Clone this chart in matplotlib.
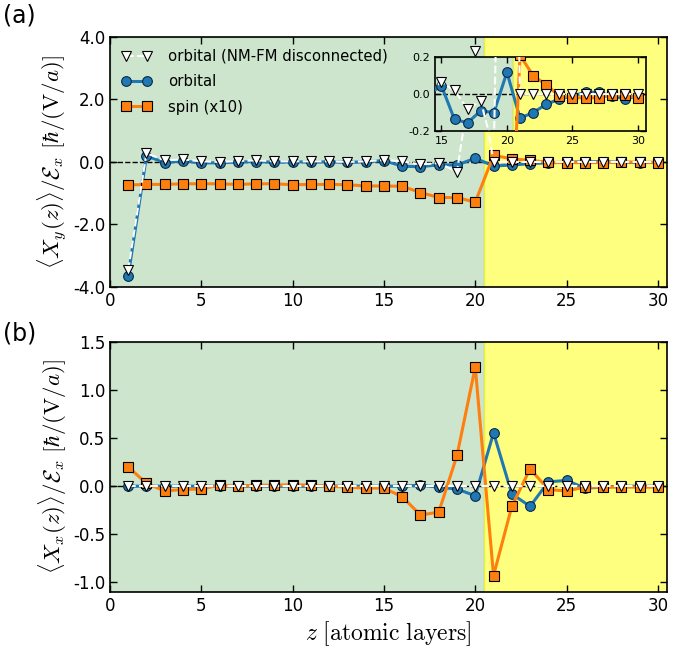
import numpy as np
import matplotlib
matplotlib.use("Agg")
import matplotlib.pyplot as plt

plt.rcParams['mathtext.fontset'] = 'cm'
plt.rcParams['font.family'] = ['DejaVu Sans']

# atomic layers
z = np.arange(1, 31)

# panel (a): <X_y(z)>/E_x
orb_y = [-3.65, 0.19, -0.02, 0.03, -0.03, -0.03, 0.0, 0.01, -0.01, 0.0,
         0.0, 0.0, -0.01, 0.0, 0.045, -0.137, -0.155, -0.09, -0.10, 0.118,
         -0.13, -0.10, -0.055, -0.027, -0.01, 0.01, 0.01, -0.01, -0.025, -0.01]
disc_y = [-3.46, 0.28, 0.05, 0.08, 0.02, 0.0, 0.03, 0.05, 0.02, 0.02,
          0.02, 0.02, 0.0, 0.02, 0.063, 0.02, -0.08, -0.037, -0.31, 3.55,
          0.0, 0.0, 0.0, 0.0, 0.0, 0.0, 0.0, 0.0, 0.0, 0.0]
spin_y = [-0.74, -0.72, -0.72, -0.70, -0.70, -0.70, -0.72, -0.70, -0.70, -0.73,
          -0.72, -0.72, -0.73, -0.77, -0.77, -0.78, -0.98, -1.14, -1.14, -1.29,
          0.21, 0.10, 0.05, -0.01, -0.02, -0.02, -0.02, -0.005, -0.005, -0.02]

# panel (b): <X_x(z)>/E_x
orb_x = [0.0, 0.0, 0.0, 0.0, 0.0, 0.0, 0.0, 0.0, 0.0, 0.0,
         0.0, 0.0, 0.0, 0.0, 0.0, 0.0, 0.01, -0.01, -0.03, -0.10,
         0.555, -0.08, -0.21, 0.045, 0.06, -0.02, -0.01, 0.0, 0.0, 0.0]
disc_x = [0.0] * 30
spin_x = [0.20, 0.03, -0.05, -0.035, -0.03, 0.01, 0.0, 0.01, 0.01, 0.015,
          0.01, 0.0, -0.01, -0.02, -0.02, -0.11, -0.30, -0.27, 0.32, 1.24,
          -0.93, -0.21, 0.18, -0.035, -0.05, -0.01, -0.01, -0.01, -0.01, -0.01]

NM_END = 20.5
Z_MAX = 30.5
BLUE = '#1f77b4'
ORANGE = '#ff7f0e'


def shade(ax):
    ax.axvspan(0, NM_END, color='green', alpha=0.2, zorder=0)
    ax.axvspan(NM_END, Z_MAX + 5, color='yellow', alpha=0.5, zorder=0)
    ax.axhline(0, color='k', ls='--', lw=1, zorder=1)


def draw(ax, orb, spin, disc, ms=7, lw=2.2):
    h1, = ax.plot(z, orb, '-o', color=BLUE, lw=lw, ms=ms, mec='#0b2a45',
                  mew=0.8, label='orbital', zorder=3)
    h2, = ax.plot(z, spin, '-s', color=ORANGE, lw=lw, ms=ms, mec='k',
                  mew=0.8, label='spin (x10)', zorder=4)
    h3, = ax.plot(z, disc, 'v', ls='--', color='white', mfc='white', mec='k',
                  lw=1.5, ms=ms + 0.5, mew=0.8,
                  label='orbital (NM-FM disconnected)', zorder=5)
    return h1, h2, h3


def style(ax, size=12):
    ax.tick_params(direction='in', top=True, right=True, labelsize=size,
                   length=5, width=1)
    for s in ax.spines.values():
        s.set_linewidth(1.2)


fig = plt.figure(figsize=(6.87, 6.49), dpi=100)
ax1 = fig.add_axes([0.160, 0.558, 0.811, 0.385])
ax2 = fig.add_axes([0.160, 0.088, 0.811, 0.385])

# (a)
shade(ax1)
h1, h2, h3 = draw(ax1, orb_y, spin_y, disc_y)
ax1.set_xlim(0, Z_MAX)
ax1.set_ylim(-4, 4)
ax1.set_xticks(range(0, 31, 5))
ax1.set_yticks([-4, -2, 0, 2, 4])
ax1.set_yticklabels(['%.1f' % v for v in [-4, -2, 0, 2, 4]])
style(ax1)
ax1.set_ylabel(r'$\langle X_y(z)\rangle/\mathcal{E}_x\ [\hbar/(\mathrm{V}/a)]$',
               fontsize=16.5, labelpad=3)
ax1.legend(handles=[h3, h1, h2], loc='upper left', frameon=False,
           numpoints=2, fontsize=10.7, handlelength=2.0, handletextpad=1.1,
           borderaxespad=0.4, labelspacing=0.7)

# inset
axin = fig.add_axes([0.633, 0.798, 0.307, 0.114])
shade(axin)
draw(axin, orb_y, spin_y, disc_y, ms=7, lw=2.2)
axin.set_xlim(14.5, 30.6)
axin.set_ylim(-0.2, 0.2)
axin.set_xticks([15, 20, 25, 30])
axin.set_yticks([-0.2, 0.0, 0.2])
axin.set_yticklabels(['%.1f' % v for v in [-0.2, 0.0, 0.2]])
style(axin, size=8)
axin.tick_params(length=4)

# (b)
shade(ax2)
draw(ax2, orb_x, spin_x, disc_x)
ax2.set_xlim(0, Z_MAX)
ax2.set_ylim(-1.1, 1.5)
ax2.set_xticks(range(0, 31, 5))
yt = [-1.0, -0.5, 0.0, 0.5, 1.0, 1.5]
ax2.set_yticks(yt)
ax2.set_yticklabels(['%.1f' % v for v in yt])
style(ax2)
ax2.set_ylabel(r'$\langle X_x(z)\rangle/\mathcal{E}_x\ [\hbar/(\mathrm{V}/a)]$',
               fontsize=16.5, labelpad=3)
ax2.set_xlabel(r'$z\ [\mathrm{atomic\ layers}]$', fontsize=17, labelpad=3)

fig.text(0.005, 0.965, '(a)', fontsize=17)
fig.text(0.005, 0.475, '(b)', fontsize=17)

fig.savefig('out.png', dpi=100)
